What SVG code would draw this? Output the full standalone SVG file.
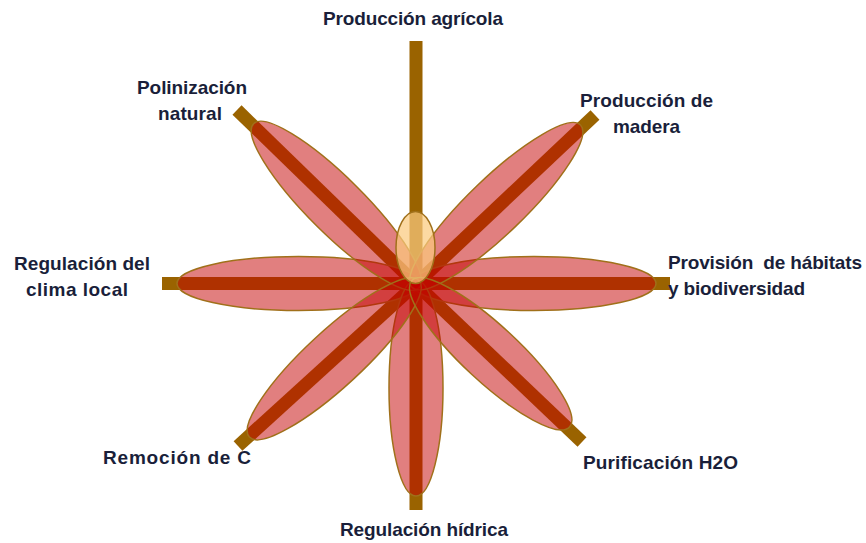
<svg xmlns="http://www.w3.org/2000/svg" width="866" height="543" viewBox="0 0 866 543">
<style>
.bar{stroke:#9A6300;stroke-width:13;stroke-linecap:butt;fill:none}
.petal{fill:#C40000;fill-opacity:0.5;stroke:#A0701A;stroke-width:1.5}
.core{fill:#FBCB7E;fill-opacity:0.72;stroke:#A0701A;stroke-width:1.5}
.lbl{font-family:"Liberation Sans",Arial,sans-serif;font-weight:bold;font-size:19px;fill:#1A1F3A}
.m{text-anchor:middle}
</style>
<rect width="866" height="543" fill="#FFFFFF"/>
<g id="connectors">
<line class="bar" x1="416" y1="284" x2="416" y2="41"/>
<line class="bar" x1="416" y1="284" x2="416" y2="510"/>
<line class="bar" x1="416" y1="283.5" x2="162" y2="283.5"/>
<line class="bar" x1="416" y1="283.5" x2="670" y2="283.5"/>
<line class="bar" x1="416" y1="284" x2="237" y2="110"/>
<line class="bar" x1="416" y1="284" x2="595" y2="115"/>
<line class="bar" x1="416" y1="284" x2="238" y2="446"/>
<line class="bar" x1="416" y1="284" x2="582" y2="442"/>
</g>
<g id="petal-left"><ellipse class="petal" cx="298.5" cy="283.5" rx="121.5" ry="27"/></g>
<g id="petal-right"><ellipse class="petal" cx="534" cy="283.5" rx="122" ry="27"/></g>
<g id="petal-down"><ellipse class="petal" cx="416" cy="388" rx="27" ry="108"/></g>
<g id="petal-ul"><ellipse class="petal" cx="0" cy="0" rx="116.5" ry="28" transform="translate(336.3,205.8) rotate(44.8)"/></g>
<g id="petal-ur"><ellipse class="petal" cx="0" cy="0" rx="117" ry="28" transform="translate(496.2,206.2) rotate(-43.9)"/></g>
<g id="petal-ll"><ellipse class="petal" cx="0" cy="0" rx="115.4" ry="28" transform="translate(334.2,358.8) rotate(-42.7)"/></g>
<g id="petal-lr"><ellipse class="petal" cx="0" cy="0" rx="107.6" ry="28" transform="translate(490.7,353.8) rotate(42.9)"/></g>
<g id="core"><ellipse class="core" cx="415.5" cy="247.5" rx="19.5" ry="36"/></g>
<g id="label-top"><text class="lbl" x="323" y="25" textLength="180" lengthAdjust="spacing">Producción agrícola</text></g>
<g id="label-ul"><text class="lbl" x="137" y="94" textLength="110" lengthAdjust="spacing">Polinización</text><text class="lbl" x="158" y="120" textLength="64" lengthAdjust="spacing">natural</text></g>
<g id="label-ur"><text class="lbl" x="580" y="107" textLength="133" lengthAdjust="spacing">Producción de</text><text class="lbl" x="613" y="133" textLength="67" lengthAdjust="spacing">madera</text></g>
<g id="label-left"><text class="lbl" x="14" y="270" textLength="136" lengthAdjust="spacing">Regulación del</text><text class="lbl" x="26" y="296" textLength="102" lengthAdjust="spacing">clima local</text></g>
<g id="label-right"><text class="lbl" x="668" y="269" textLength="194" lengthAdjust="spacing" xml:space="preserve">Provisión  de hábitats</text><text class="lbl" x="668" y="295" textLength="137" lengthAdjust="spacing">y biodiversidad</text></g>
<g id="label-ll"><text class="lbl" x="103" y="464" textLength="148" lengthAdjust="spacing">Remoción de C</text></g>
<g id="label-lr"><text class="lbl" x="583" y="469" textLength="155" lengthAdjust="spacing">Purificación H2O</text></g>
<g id="label-bottom"><text class="lbl" x="340" y="536" textLength="168" lengthAdjust="spacing">Regulación hídrica</text></g>
</svg>
